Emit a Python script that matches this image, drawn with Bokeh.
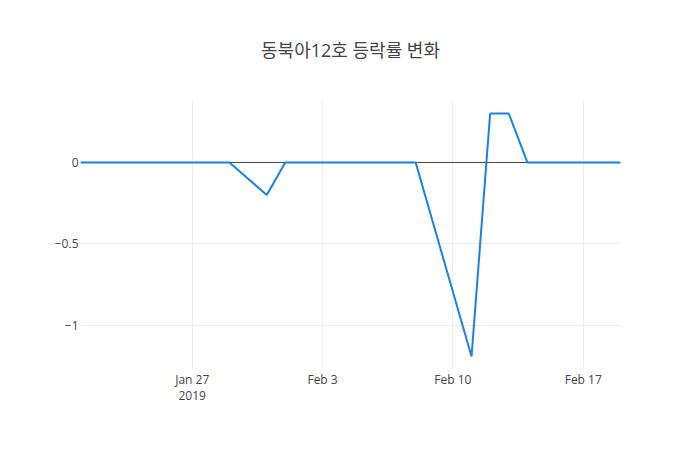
from datetime import datetime
from bokeh.plotting import figure
from bokeh.models import FixedTicker, Range1d, Span
from bokeh.embed import file_html
from bokeh.resources import INLINE

title_text = "동북아12호 등락률 변화"
dates = ["2019-01-21", "2019-01-22", "2019-01-23", "2019-01-24", "2019-01-25",
         "2019-01-28", "2019-01-29", "2019-01-31", "2019-02-01", "2019-02-07",
         "2019-02-08", "2019-02-11", "2019-02-12", "2019-02-13", "2019-02-14",
         "2019-02-15", "2019-02-18", "2019-02-19"]
values = [0, 0, 0, 0, 0, 0, 0, -0.2, 0, 0, 0, -1.19, 0.3, 0.3, 0, 0, 0, 0]
x_tick_dates = ["2019-01-27", "2019-02-03", "2019-02-10", "2019-02-17"]
x_tick_labels = ["Jan 27\n2019", "Feb 3", "Feb 10", "Feb 17"]
y_ticks = [0, -0.5, -1]
y_tick_labels = ["0", "\u22120.5", "\u22121"]

def ms(s):
    return datetime.strptime(s, "%Y-%m-%d").timestamp() * 1000.0

xs = [datetime.strptime(d, "%Y-%m-%d") for d in dates]
x_ticks_ms = [ms(d) for d in x_tick_dates]

p = figure(width=700, height=450, x_axis_type="datetime",
           output_backend="svg", toolbar_location=None,
           min_border_left=80, min_border_right=80,
           min_border_top=100, min_border_bottom=80,
           x_range=Range1d(ms(dates[0]), ms(dates[-1])),
           y_range=Range1d(-1.276, 0.38))
p.outline_line_color = None
p.background_fill_color = "white"
p.border_fill_color = "white"

p.title.text = title_text
p.title.align = "center"
p.title.vertical_align = "top"
p.title.text_font = "Open Sans, Noto Sans CJK KR"
p.title.text_font_size = "18px"
p.title.text_font_style = "normal"
p.title.text_color = "#444444"
p.title.offset = 0
p.title.standoff = 74

p.xaxis.ticker = FixedTicker(ticks=x_ticks_ms)
p.xaxis.major_label_overrides = {t: l for t, l in zip(x_ticks_ms, x_tick_labels)}
p.yaxis.ticker = FixedTicker(ticks=y_ticks)
p.yaxis.major_label_overrides = {t: l for t, l in zip(y_ticks, y_tick_labels)}

for ax in (p.xaxis, p.yaxis):
    ax.axis_line_color = None
    ax.major_tick_line_color = None
    ax.minor_tick_line_color = None
    ax.major_tick_out = 0
    ax.major_tick_in = 0
    ax.minor_tick_out = 0
    ax.minor_tick_in = 0
    ax.major_label_text_font = "Open Sans"
    ax.major_label_text_font_size = "12px"
    ax.major_label_text_color = "#444444"
p.yaxis.major_label_standoff = 2
p.xaxis.major_label_standoff = 0
p.xaxis.major_label_text_line_height = 0.95

p.xgrid.grid_line_color = "#eeeeee"
p.ygrid.grid_line_color = "#eeeeee"
p.xgrid.ticker = p.xaxis.ticker
p.ygrid.ticker = p.yaxis.ticker

zero = Span(location=0, dimension="width", line_color="#444444",
            line_width=1, level="underlay")
p.add_layout(zero)

p.line(xs, values, line_color="#1a82e6", line_width=2)

open("out.html", "w").write(file_html(p, INLINE))
